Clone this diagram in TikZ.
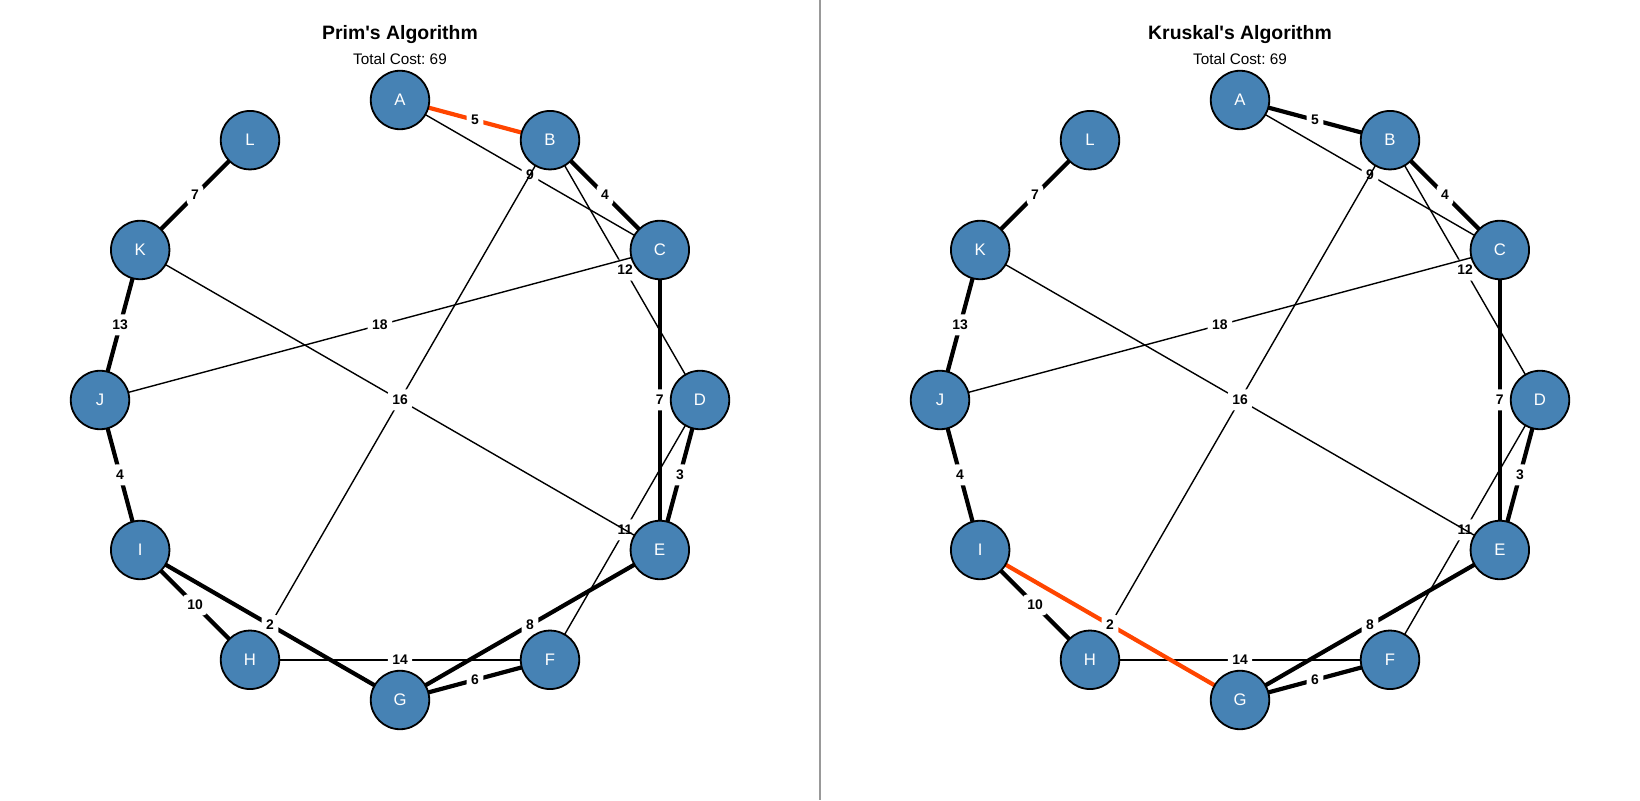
\documentclass[tikz,border=0pt]{standalone}
\usepackage{fontspec}
\setmainfont{Liberation Sans}
\frenchspacing
\pgfdeclarelayer{background}
\pgfdeclarelayer{edgelayer}
\pgfsetlayers{background,edgelayer,main}
\definecolor{nodeblue}{HTML}{4682B4}
\definecolor{hotedge}{HTML}{FF4500}
\definecolor{divider}{HTML}{999999}

% one weighted edge: style, from, to, weight
\newcommand\wline[4]{\draw[#1] (#2.center) -- node[weight,pos=0.5]{#4} (#3.center);}

% one spanning-tree panel: prefix, centre x, title, style of A-B, style of G-I
\newcommand\mstpanel[5]{%
  \node[title] (#1title) at (#2,760) {#3};
  \node[subtitle] (#1cost) at (#2,735) {Total Cost: 69};
  \begin{scope}[shift={(#2,400)}]
    \foreach \n [count=\i from 0] in {A,B,C,D,E,F,G,H,I,J,K,L}
      \node[vertex] (#1\n) at ({90-30*\i}:300) {\n};
  \end{scope}
  \begin{pgfonlayer}{edgelayer}
    \wline{#4}{#1A}{#1B}{5}
    \wline{plain}{#1A}{#1C}{9}
    \draw[plain] (#1B.center) -- (#1H.center);
    \wline{mst}{#1B}{#1C}{4}
    \wline{plain}{#1B}{#1D}{12}
    \wline{mst}{#1C}{#1E}{7}
    \wline{plain}{#1C}{#1J}{18}
    \wline{mst}{#1D}{#1E}{3}
    \wline{plain}{#1D}{#1F}{11}
    \wline{plain}{#1E}{#1K}{16}
    \wline{mst}{#1E}{#1G}{8}
    \wline{mst}{#1F}{#1G}{6}
    \wline{plain}{#1F}{#1H}{14}
    \wline{#5}{#1G}{#1I}{2}
    \wline{mst}{#1H}{#1I}{10}
    \wline{mst}{#1I}{#1J}{4}
    \wline{mst}{#1J}{#1K}{13}
    \wline{mst}{#1K}{#1L}{7}
  \end{pgfonlayer}%
}

\begin{document}
\begin{tikzpicture}[x=1pt,y=1pt,
  vertex/.style={circle, draw=black, line width=1.8pt, fill=nodeblue,
    minimum size=58.5pt, inner sep=0pt, text=white,
    font=\fontsize{16.7}{20}\selectfont},
  plain/.style={draw=black, line width=1.4pt},
  mst/.style={draw=black, line width=4.2pt},
  hot/.style={draw=hotedge, line width=4.2pt},
  weight/.style={fill=white, rounded corners=4pt, inner xsep=4.5pt,
    inner ysep=0pt, minimum height=21pt, text=black,
    font=\fontsize{13.9}{16}\bfseries\selectfont},
  title/.style={anchor=base, font=\fontsize{19.4}{23}\bfseries\selectfont},
  subtitle/.style={anchor=base, font=\fontsize{15.3}{18}\selectfont}]

\useasboundingbox (0,0) rectangle (1640,800);
\begin{pgfonlayer}{background}
  \fill[white] (0,0) rectangle (1640,800);
\end{pgfonlayer}

\mstpanel{p}{400}{Prim\textquotesingle s Algorithm}{hot}{mst}
\mstpanel{k}{1240}{Kruskal\textquotesingle s Algorithm}{mst}{hot}

% separator between the two panels
\coordinate (sepTop) at (820,800);
\coordinate (sepBottom) at (820,0);
\draw[divider, line width=2pt] (sepTop) -- (sepBottom);

\end{tikzpicture}
\end{document}
